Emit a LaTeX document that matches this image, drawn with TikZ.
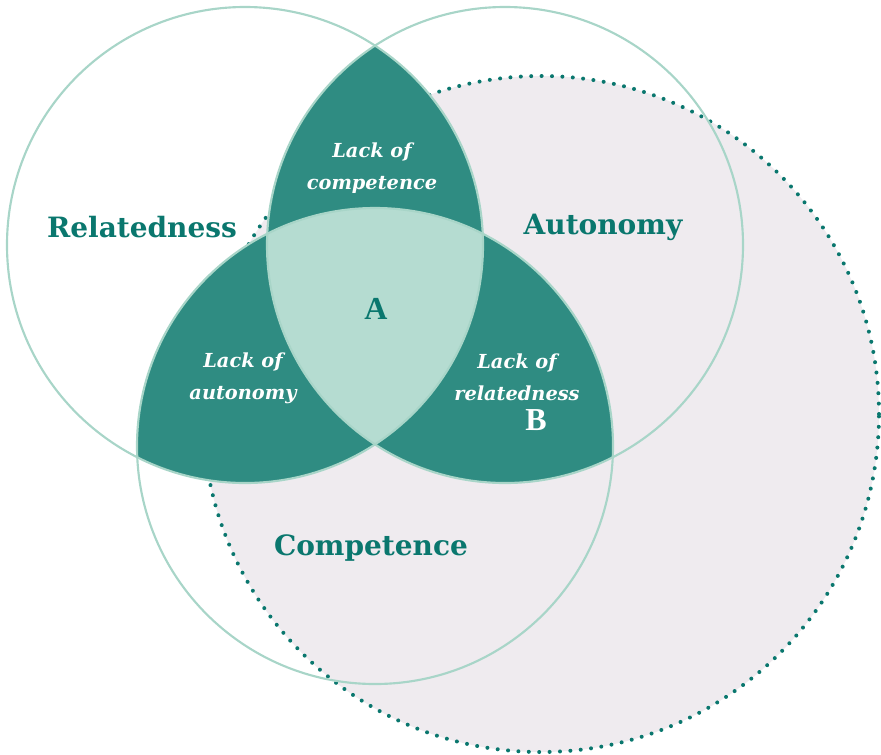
\documentclass[tikz,border=0pt]{standalone}
\usepackage{fontspec}
\setmainfont{DejaVu Serif}
\newfontfamily\letterfont{Liberation Serif}
\usepackage{tikz}

\definecolor{ringline}{HTML}{A8D5C8}
\definecolor{lensdark}{HTML}{2F8C82}
\definecolor{lenslight}{HTML}{B5DCD1}
\definecolor{blush}{HTML}{EFEBEF}
\definecolor{tealtext}{HTML}{0A776E}

\begin{document}
\begin{tikzpicture}[x=0.75pt,y=-0.75pt]
      \useasboundingbox (0,0) rectangle (881,754);
      \coordinate (R) at (245,245);
      \coordinate (A) at (505,245);
      \coordinate (C) at (375,446);
      \coordinate (D) at (541,414);
      % dotted background circle
      \fill[blush] (D) circle[radius=253.5pt];
      \draw[tealtext,line width=3pt,line cap=round,dash pattern=on 0pt off 7.8pt]
        (D) circle[radius=253.5pt];
      % pairwise overlaps
      \begin{scope}
        \clip (R) circle[radius=178.5pt];
        \fill[lensdark] (A) circle[radius=178.5pt];
        \fill[lensdark] (C) circle[radius=178.5pt];
      \end{scope}
      \begin{scope}
        \clip (A) circle[radius=178.5pt];
        \fill[lensdark] (C) circle[radius=178.5pt];
      \end{scope}
      % centre overlap
      \begin{scope}
        \clip (R) circle[radius=178.5pt];
        \clip (A) circle[radius=178.5pt];
        \fill[lenslight] (C) circle[radius=178.5pt];
      \end{scope}
      \begin{scope}[every path/.style={draw=ringline,line width=1.6pt}]
        \path (R) circle[radius=178.5pt];
        \path (A) circle[radius=178.5pt];
        \path (C) circle[radius=178.5pt];
      \end{scope}
      \begin{scope}[every node/.style={font=\bfseries\fontsize{21pt}{24pt}\selectfont,text=tealtext}]
        \node (rel) at (142,227) {Relatedness};
        \node (aut) at (603,227) {Autonomy};
        \node (com) at (371,548) {Competence};
      \end{scope}
      \begin{scope}[every node/.style={font=\itshape\bfseries\fontsize{14.5pt}{24pt}\selectfont,text=white,align=center}]
        \node (lcom) at (372,168) {Lack of\\competence};
        \node (laut) at (243,378) {Lack of\\autonomy};
        \node (lrel) at (517,377) {Lack of\\relatedness};
      \end{scope}
      \begin{scope}[every node/.style={font=\letterfont\bfseries\fontsize{24pt}{28pt}\selectfont}]
        \node[text=tealtext] (a) at (376,309) {A};
        \node[text=white] (b) at (536,420) {B};
      \end{scope}
    \end{tikzpicture}
\end{document}
